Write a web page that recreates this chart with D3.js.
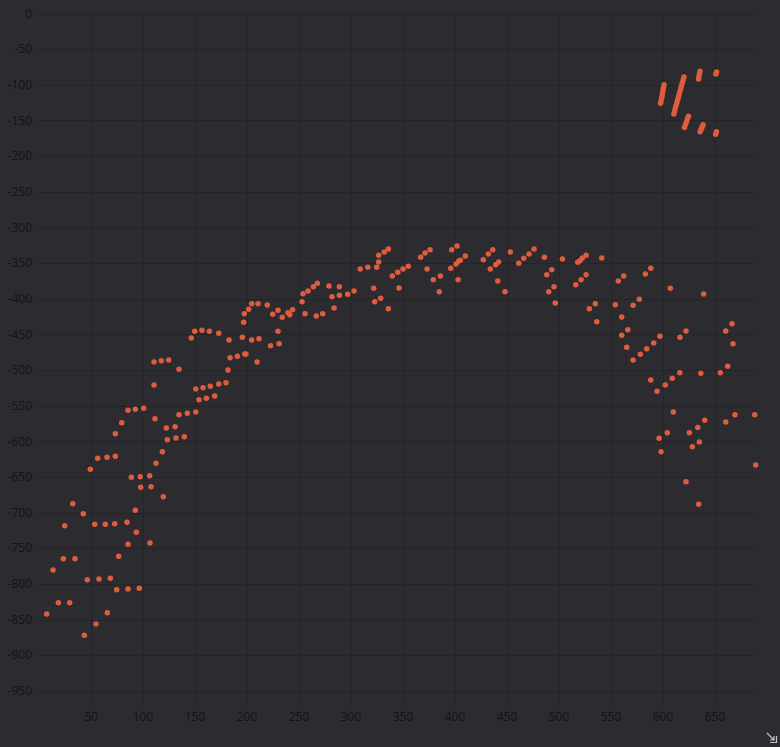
<!DOCTYPE html>
<html>
<head>
<meta charset="utf-8">
<script src="https://cdn.jsdelivr.net/npm/d3@7"></script>
<style>
html,body{margin:0;padding:0;background:#2c2b30;}
svg{display:block;}
</style>
</head>
<body>
<svg id="chart" width="780" height="747"></svg>
<script>
const xTicks = [50,100,150,200,250,300,350,400,450,500,550,600,650];
const yTicks = [0,-50,-100,-150,-200,-250,-300,-350,-400,-450,-500,-550,-600,-650,-700,-750,-800,-850,-900,-950];

const arcLow = [[7.4,-842.2],[13.5,-780.5],[18.6,-826.4],[23.4,-764.6],[24.7,-718.4],[29.5,-826.4],[32.4,-687.5],[34.6,-764.6],[42.6,-701.5],[43.6,-872.1],[46.4,-794.1],[53.6,-716.4],[54.8,-856.2],[57.7,-793.1],[63.8,-716.4],[65.7,-840.4],[68.6,-792.1],[72.8,-715.6],[74.7,-808.1],[76.6,-761.3],[84.6,-713.6],[85.6,-744.4],[85.6,-807.1],[92.6,-696.8],[93.6,-727.6],[96.4,-806.2],[97.8,-664.5],[106.7,-742.6],[107.7,-663.7],[119.5,-677.7]];

const arcRise = [[204.5,-407.0],[210.6,-407.0],[219.5,-408.8],[201.6,-414.9],[197.4,-421.0],[196.8,-433.1],[149.7,-445.7],[156.7,-444.3],[163.8,-445.7],[172.8,-448.5],[146.4,-455.1],[182.7,-457.9],[195.5,-454.1],[204.5,-457.9],[211.5,-456.1],[222.6,-465.9],[110.6,-488.8],[117.6,-486.9],[124.7,-486.0],[134.6,-499.0],[183.7,-482.7],[190.7,-480.8],[197.8,-477.5],[199.0,-477.5],[209.6,-488.8],[181.7,-500.0],[110.6,-521.0],[150.7,-526.6],[157.7,-524.8],[164.7,-522.8],[172.8,-519.6],[179.8,-517.8],[153.8,-541.6],[160.9,-539.7],[168.9,-536.5],[85.6,-556.5],[92.6,-555.1],[100.7,-553.7],[111.5,-568.3],[134.6,-562.7],[142.6,-560.7],[150.7,-558.9],[79.5,-573.9],[122.4,-581.3],[130.8,-579.5],[73.4,-589.3],[123.4,-597.7],[131.7,-595.4],[139.7,-593.5],[118.6,-614.6],[56.4,-623.8],[65.4,-622.4],[73.4,-621.0],[112.5,-630.8],[49.3,-639.3],[88.8,-650.5],[97.4,-649.6],[106.4,-648.2]];

const arcMid = [[326.6,-339.1],[326.6,-348.5],[308.9,-358.3],[316.1,-356.0],[324.7,-356.0],[267.6,-378.4],[263.8,-383.2],[258.7,-389.2],[253.8,-393.0],[252.9,-404.2],[278.8,-382.2],[288.8,-383.2],[281.7,-397.2],[288.8,-395.2],[296.8,-393.8],[302.9,-389.2],[321.8,-385.4],[322.8,-404.2],[328.5,-399.3],[283.7,-413.0],[224.7,-421.9],[229.8,-416.3],[233.9,-426.1],[239.4,-419.6],[241.1,-422.4],[243.9,-415.4],[255.8,-421.0],[266.6,-424.3],[272.8,-421.0],[229.8,-445.7],[230.8,-463.1]];

const arcTop = [[332.0,-334.5],[335.9,-330.3],[339.7,-368.2],[344.9,-363.0],[350.0,-358.3],[355.1,-354.6],[335.9,-414.0],[346.2,-385.0],[367.0,-341.9],[371.2,-335.9],[376.0,-331.3],[373.1,-358.3],[379.1,-373.3],[385.9,-368.2],[384.9,-390.2],[396.8,-331.3],[401.9,-326.1],[395.9,-357.4],[401.0,-351.3],[403.6,-347.1],[405.1,-346.1],[409.9,-340.1],[402.9,-373.3],[427.2,-345.3],[432.0,-337.3],[436.3,-331.3],[433.9,-358.3],[439.1,-352.3],[442.0,-348.5],[441.1,-375.2],[448.1,-390.2],[453.2,-334.5],[461.3,-350.3],[466.1,-343.3],[471.2,-337.3],[476.0,-330.3],[485.9,-341.9],[493.0,-359.3],[488.2,-366.3],[495.2,-383.2],[490.1,-390.2],[496.4,-406.0],[503.2,-344.3]];

const arcFall = [[518.0,-348.9],[520.2,-346.7],[522.4,-342.9],[526.0,-339.1],[541.1,-342.9],[516.1,-380.4],[521.2,-373.3],[526.0,-366.3],[557.0,-375.2],[562.2,-368.2],[583.0,-365.4],[588.2,-357.4],[607.0,-385.4],[639.1,-393.4],[529.1,-414.0],[534.9,-407.0],[536.3,-432.2],[554.1,-408.4],[571.2,-409.2],[577.2,-400.8],[560.3,-425.7],[566.1,-443.5],[560.3,-451.3],[565.1,-468.2],[571.2,-486.0],[578.2,-478.0],[584.3,-470.1],[591.1,-462.1],[597.1,-452.7],[616.3,-454.1],[622.1,-445.3],[660.3,-445.3],[666.3,-435.0],[667.3,-463.1],[588.2,-514.0],[594.2,-529.9],[602.2,-521.0],[608.9,-511.6],[616.1,-503.8],[636.3,-504.6],[655.1,-503.8],[662.2,-494.8],[609.9,-558.9],[596.2,-595.8],[604.1,-587.9],[625.3,-587.9],[633.4,-580.6],[640.1,-570.5],[660.3,-572.9],[669.2,-562.7],[688.2,-562.7],[634.9,-601.0],[628.2,-607.6],[598.1,-614.6],[689.1,-633.2],[622.1,-656.6],[634.3,-688.4]];

const streaks = [[601.0,-100],[600.4,-104],[599.9,-108],[599.5,-112],[599.0,-116],[598.6,-119],[598.1,-123],[597.6,-126],
[620.1,-89],[619.4,-93],[618.6,-97],[617.8,-101],[617.1,-105],[616.3,-109],[615.6,-113],[614.8,-117],[614.1,-121],[613.3,-125],[612.6,-129],[611.8,-133],[611.1,-137],[610.4,-141],
[635.5,-81],[635.0,-85],[634.5,-89],[634.1,-92],
[651.5,-82],[650.8,-85],
[624.5,-144],[623.5,-148],[622.5,-152],[621.5,-156],[620.6,-160],
[638.5,-156],[637.5,-159.5],[636.5,-163],[635.6,-166],
[651.4,-166],[650.6,-169.5]];

const svg = d3.select('#chart');
const plotLeft = 35, plotRight = 756, plotTop = 13.5, plotBottom = 690.85, gridBottom = 707;

const x = d3.scaleLinear().domain([-3.85, 689.4]).range([plotLeft, plotRight]);
const y = d3.scaleLinear().domain([0, -950]).range([plotTop, plotBottom]);

const gridColor = '#252428';
const textColor = '#141414';
const font = '"Open Sans", "Noto Sans", sans-serif';

svg.append('g').selectAll('line').data(xTicks).join('line')
  .attr('x1', d => Math.round(x(d)) + 0.5).attr('x2', d => Math.round(x(d)) + 0.5)
  .attr('y1', plotTop).attr('y2', gridBottom)
  .attr('stroke', gridColor).attr('stroke-width', 1);

svg.append('g').selectAll('line').data(yTicks).join('line')
  .attr('x1', plotLeft).attr('x2', plotRight)
  .attr('y1', d => Math.round(y(d)) + 0.5).attr('y2', d => Math.round(y(d)) + 0.5)
  .attr('stroke', gridColor).attr('stroke-width', 1);

svg.append('g').selectAll('text').data(yTicks).join('text')
  .attr('x', 32).attr('y', d => y(d)).attr('dy', '0.35em')
  .attr('text-anchor', 'end')
  .attr('font-family', font).attr('font-size', 12).attr('fill', textColor)
  .text(d => d);

svg.append('g').selectAll('text').data(xTicks).join('text')
  .attr('x', d => x(d)).attr('y', 717).attr('dy', '0.35em')
  .attr('text-anchor', 'middle')
  .attr('font-family', font).attr('font-size', 12).attr('fill', textColor)
  .text(d => d);

const allPts = [].concat(arcLow, arcRise, arcMid, arcTop, arcFall, streaks);
svg.append('g').selectAll('circle').data(allPts).join('circle')
  .attr('cx', d => x(d[0])).attr('cy', d => y(d[1]))
  .attr('r', 2.75).attr('fill', '#e05c3e');

const ic = svg.append('g').attr('stroke', '#c4c4c4').attr('fill', 'none').attr('stroke-width', 1.2);
ic.append('path').attr('d', 'M767,733 L774,740 M774,736 L774,740 L770,740');
ic.append('path').attr('d', 'M776.5,736 L776.5,742.5 L770,742.5');
</script>
</body>
</html>
